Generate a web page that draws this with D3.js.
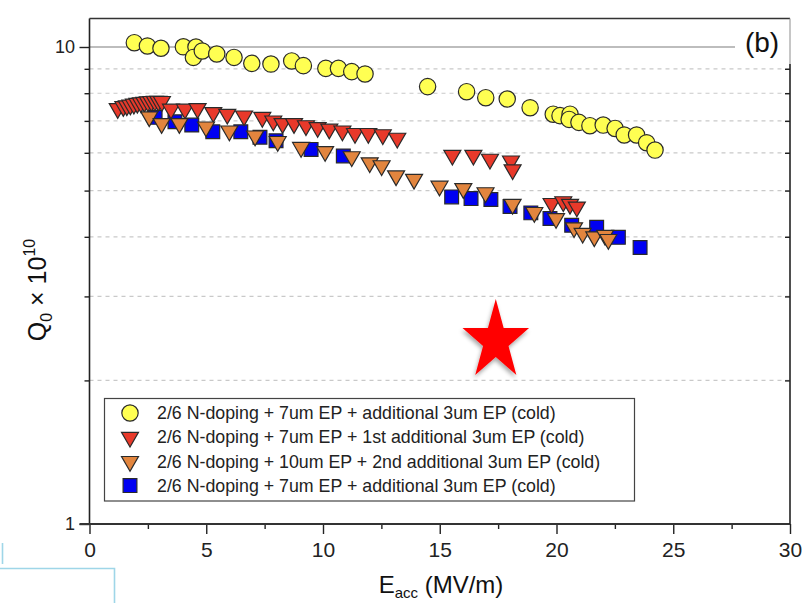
<!DOCTYPE html>
<html>
<head>
<meta charset="utf-8">
<script src="https://cdn.jsdelivr.net/npm/d3@7"></script>
<style>
  html, body { margin: 0; padding: 0; background: #fff; }
  svg { display: block; font-family: "Liberation Sans", Arial, Helvetica, sans-serif; }
</style>
</head>
<body>
<svg id="chart" width="811" height="603"></svg>
<script>
// Q0 vs Eacc, four cavity test series
const yellowE = [1.92, 2.48, 3.06, 4.02, 4.56, 4.45, 4.83, 5.45, 6.19, 6.95, 7.77, 8.66, 9.16, 10.12, 10.66, 11.23, 11.8,
                 14.48, 16.15, 16.97, 17.89, 18.87, 19.86, 20.15, 20.58, 20.54, 20.96, 21.43, 22.0, 22.51, 22.9, 23.43, 23.86, 24.22];
const yellowQ = [10.21, 10.05, 9.94, 10.01, 10.0, 9.51, 9.81, 9.67, 9.51, 9.24, 9.21, 9.35, 9.14, 9.02, 9.02, 8.88, 8.78,
                 8.26, 8.06, 7.83, 7.78, 7.46, 7.23, 7.18, 7.23, 7.05, 6.95, 6.84, 6.86, 6.75, 6.54, 6.54, 6.30, 6.08];

const redE = [1.21, 1.45, 1.6, 1.75, 1.9, 2.05, 2.2, 2.35, 2.5, 2.65, 2.8, 2.95, 3.1,
              3.49, 4.09, 4.63, 5.30, 5.90, 6.62, 7.40, 7.87, 8.27, 8.76, 9.27, 9.77, 10.27, 10.83, 11.37, 11.94, 12.56, 13.18,
              15.54, 16.44, 17.15, 18.05, 18.12, 19.79, 20.29, 20.58, 20.87];
const redQ = [7.43, 7.50, 7.53, 7.56, 7.59, 7.62, 7.64, 7.66, 7.68, 7.69, 7.70, 7.70, 7.69,
              7.41, 7.41, 7.43, 7.29, 7.23, 7.17, 7.12, 7.00, 6.91, 6.91, 6.84, 6.78, 6.73, 6.67, 6.59, 6.59, 6.55, 6.44,
              5.93, 5.93, 5.82, 5.77, 5.53, 4.70, 4.74, 4.68, 4.62];

const orangeE = [2.56, 3.09, 3.85, 4.99, 5.99, 7.09, 8.06, 9.06, 10.09, 11.23, 12.0, 12.51, 13.13, 13.9, 14.99, 16.01, 16.96,
                 18.12, 19.05, 19.98, 20.75, 21.12, 21.62, 22.08, 22.22];
const orangeQ = [7.14, 6.91, 6.91, 6.80, 6.67, 6.51, 6.34, 6.16, 6.04, 5.89, 5.72, 5.64, 5.37, 5.28, 5.11, 5.05, 4.95,
                 4.68, 4.50, 4.37, 4.18, 4.07, 4.00, 4.03, 3.95];

const blueE = [2.81, 3.66, 4.38, 5.28, 6.48, 7.3, 7.99, 9.49, 10.87,
               15.51, 16.34, 17.19, 18.01, 18.9, 19.72, 20.65, 21.72, 22.65, 23.58];
const blueQ = [7.12, 6.97, 6.86, 6.64, 6.64, 6.47, 6.36, 6.10, 5.91,
               4.85, 4.81, 4.79, 4.63, 4.49, 4.37, 4.23, 4.19, 3.99, 3.80];

const seriesLabels = [
  "2/6 N-doping + 7um EP + additional 3um EP (cold)",
  "2/6 N-doping + 7um EP + 1st additional 3um EP (cold)",
  "2/6 N-doping + 10um EP + 2nd additional 3um EP (cold)",
  "2/6 N-doping + 7um EP + additional 3um EP (cold)"
];

const xTicks = [0, 5, 10, 15, 20, 25, 30];
const xMinorTicks = [2.5, 7.5, 12.5, 17.5, 22.5, 27.5];
const yTicks = [1, 10];
const yMinorTicks = [2, 3, 4, 5, 6, 7, 8, 9];
const starPoint = { E: 17.4, Q: 2.42 };
const panelLabel = "(b)";

// ---- layout
const svg = d3.select("#chart");
const plotLeft = 89.5, plotRight = 790, plotBottom = 524, plotTop = 18.5;
const x = d3.scaleLinear().domain([0, 30]).range([plotLeft, plotRight]);
const y = d3.scaleLog().domain([1, 10]).range([plotBottom, 47]);

svg.append("rect").attr("width", 811).attr("height", 603).attr("fill", "#fff");

const defs = svg.append("defs");
const shadow = defs.append("filter").attr("id", "starShadow")
  .attr("x", "-30%").attr("y", "-30%").attr("width", "160%").attr("height", "160%");
shadow.append("feDropShadow").attr("dx", -1).attr("dy", 3).attr("stdDeviation", 2.2)
  .attr("flood-color", "#000").attr("flood-opacity", 0.35);

// gridlines
svg.append("g").selectAll("line").data(yMinorTicks).join("line")
  .attr("x1", plotLeft).attr("x2", plotRight)
  .attr("y1", d => y(d)).attr("y2", d => y(d))
  .attr("stroke", "#c9c9c9").attr("stroke-width", 1.2).attr("stroke-dasharray", "4,4");
svg.append("line")
  .attr("x1", plotLeft).attr("x2", 735).attr("y1", y(10)).attr("y2", y(10))
  .attr("stroke", "#bdbdbd").attr("stroke-width", 1.8);

// axes ticks
const tickStyle = g => {
  g.select(".domain").remove();
  g.selectAll(".tick line").attr("stroke", "#222").attr("stroke-width", 1.4);
};
svg.append("g").attr("transform", `translate(0,${plotBottom})`)
  .call(d3.axisBottom(x).tickValues(xTicks).tickSize(10).tickPadding(8).tickFormat(d3.format("d")))
  .call(tickStyle)
  .call(g => g.selectAll("text").attr("font-size", 21).attr("fill", "#222")
    .attr("font-family", "'Liberation Sans', Arial, sans-serif"));
svg.append("g").attr("transform", `translate(0,${plotBottom})`)
  .call(d3.axisBottom(x).tickValues(xMinorTicks).tickSize(5).tickFormat(""))
  .call(tickStyle);
svg.append("g").attr("transform", `translate(${plotLeft},0)`)
  .call(d3.axisLeft(y).tickValues(yTicks).tickSize(10).tickPadding(4.5).tickFormat(d3.format("d")))
  .call(tickStyle)
  .call(g => g.selectAll("text").attr("font-size", 18).attr("fill", "#222")
    .attr("font-family", "'Liberation Sans', Arial, sans-serif"));
svg.append("g").attr("transform", `translate(${plotLeft},0)`)
  .call(d3.axisLeft(y).tickValues(yMinorTicks).tickSize(5).tickFormat(""))
  .call(tickStyle);
svg.append("g").attr("transform", `translate(${plotRight},0)`)
  .call(d3.axisRight(y).tickValues(yMinorTicks).tickSize(-5).tickFormat(""))
  .call(tickStyle);

// frame
svg.append("line").attr("x1", plotLeft).attr("x2", plotLeft).attr("y1", plotTop).attr("y2", plotBottom)
  .attr("stroke", "#222").attr("stroke-width", 1.6);
svg.append("line").attr("x1", plotLeft - 10).attr("x2", plotRight).attr("y1", plotBottom).attr("y2", plotBottom)
  .attr("stroke", "#333").attr("stroke-width", 2);
svg.append("line").attr("x1", plotLeft).attr("x2", plotRight).attr("y1", plotTop).attr("y2", plotTop)
  .attr("stroke", "#333").attr("stroke-width", 1.5);
svg.append("line").attr("x1", plotRight).attr("x2", plotRight).attr("y1", plotTop).attr("y2", 64)
  .attr("stroke", "#a0a0a0").attr("stroke-width", 1.2);
svg.append("line").attr("x1", plotRight).attr("x2", plotRight).attr("y1", 64).attr("y2", plotBottom)
  .attr("stroke", "#222").attr("stroke-width", 1.6);

// panel label
svg.append("text").attr("x", 762).attr("y", 52).attr("text-anchor", "middle")
  .attr("font-size", 28).attr("fill", "#111").text(panelLabel);

// markers
const markerStroke = "#2a2a2a";
const symCircle = d3.symbol().type(d3.symbolCircle).size(210);
const symTri = d3.symbol().type(d3.symbolTriangle).size(125);
const symSquare = d3.symbol().type(d3.symbolSquare).size(190);

const series = [
  { E: blueE, Q: blueQ, sym: symSquare, fill: "#0000f2", rot: 0 },
  { E: redE, Q: redQ, sym: symTri, fill: "#e8392a", rot: 180 },
  { E: orangeE, Q: orangeQ, sym: symTri, fill: "#e2853e", rot: 180 },
  { E: yellowE, Q: yellowQ, sym: symCircle, fill: "#ffff52", rot: 0 }
];

series.forEach(s => {
  svg.append("g").selectAll("path").data(s.E.map((e, i) => [e, s.Q[i]])).join("path")
    .attr("d", s.sym())
    .attr("transform", d => `translate(${x(d[0])},${y(d[1])}) rotate(${s.rot})`)
    .attr("fill", s.fill).attr("stroke", markerStroke).attr("stroke-width", 1.2);
});

// star annotation
const starPts = [];
const Rs = 35, rs = 35 * 0.382, stretch = 1.2;
for (let k = 0; k < 10; k++) {
  const a = -Math.PI / 2 + k * Math.PI / 5;
  const r = k % 2 === 0 ? Rs : rs;
  starPts.push([r * Math.cos(a), r * Math.sin(a) * stretch]);
}
svg.append("path")
  .attr("d", d3.line()(starPts) + "Z")
  .attr("transform", `translate(${x(starPoint.E)},${y(starPoint.Q)})`)
  .attr("fill", "#ff0000").attr("filter", "url(#starShadow)");

// legend
const legend = svg.append("g");
legend.append("rect").attr("x", 104.5).attr("y", 398.5).attr("width", 530).attr("height", 102.5)
  .attr("fill", "#fff").attr("stroke", "#444").attr("stroke-width", 1.2);
const legendOrder = [3, 1, 2, 0].map(i => series[i]);
legendOrder.forEach((s, i) => {
  const cy = 413 + i * 24.2;
  legend.append("path").attr("d", s.sym())
    .attr("transform", `translate(130,${cy}) rotate(${s.rot})`)
    .attr("fill", s.fill).attr("stroke", markerStroke).attr("stroke-width", 1.2);
  legend.append("text").attr("x", 157).attr("y", cy).attr("dy", "0.35em")
    .attr("font-size", 17.8).attr("fill", "#222").text(seriesLabels[i]);
});

// axis titles
const xTitle = svg.append("text").attr("x", 441).attr("y", 593).attr("text-anchor", "middle")
  .attr("font-size", 24).attr("fill", "#111");
xTitle.append("tspan").text("E");
xTitle.append("tspan").attr("font-size", 15).attr("dy", 5).text("acc");
xTitle.append("tspan").attr("dy", -5).text(" (MV/m)");

const yTitle = svg.append("text").attr("transform", "translate(46,290) rotate(-90)")
  .attr("text-anchor", "middle").attr("font-size", 25).attr("fill", "#111");
yTitle.append("tspan").text("Q");
yTitle.append("tspan").attr("font-size", 16).attr("dy", 6).text("0");
yTitle.append("tspan").attr("dy", -6).text(" \u00d7 10");
yTitle.append("tspan").attr("font-size", 16).attr("dy", -11).text("10");

// slide outline fragments at the lower left
svg.append("line").attr("x1", 2.5).attr("x2", 2.5).attr("y1", 543).attr("y2", 564)
  .attr("stroke", "#9fd6e8").attr("stroke-width", 1.6);
svg.append("path").attr("d", "M0,568.5H114.5V603")
  .attr("fill", "none").attr("stroke", "#9fd6e8").attr("stroke-width", 1.6);
</script>
</body>
</html>
